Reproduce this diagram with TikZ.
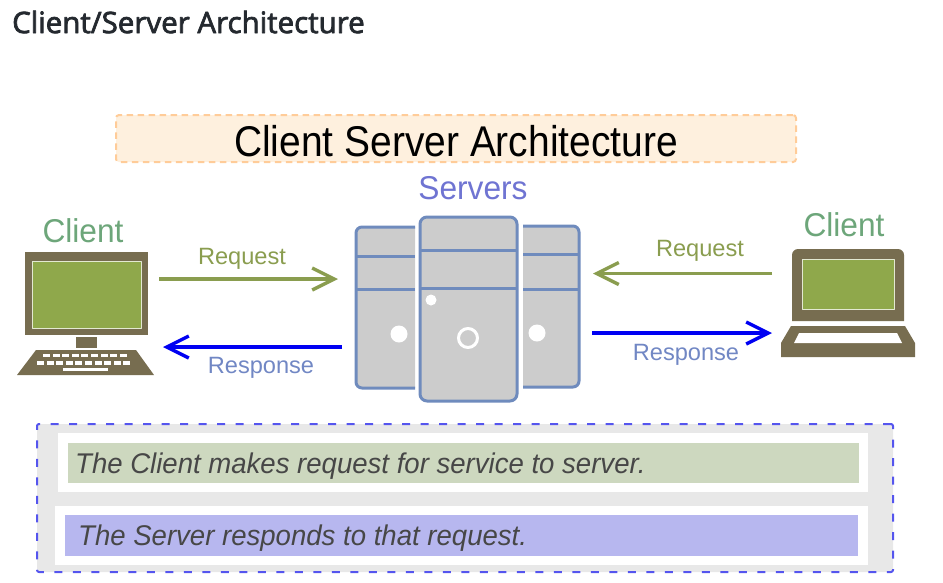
\documentclass[tikz,border=0pt]{standalone}
\usepackage{fontspec}
\setmainfont{Liberation Sans}
\newfontfamily\headfont{Open Sans}[FakeBold=2.5]
\newfontfamily\narrowfont{Liberation Sans}[FakeStretch=0.906]
\newfontfamily\namefont{Liberation Sans}[FakeStretch=0.96]
\newfontfamily\notefont{Liberation Sans}[FakeStretch=0.967]
\usetikzlibrary{arrows.meta, calc}
\definecolor{leaf}{HTML}{8FA84B}
\definecolor{reqgreen}{HTML}{8A9D4F}
\definecolor{resblue}{HTML}{7187C4}
\definecolor{clientgreen}{HTML}{6DA67A}
\definecolor{servname}{HTML}{6F74D2}
\definecolor{olive}{HTML}{776D50}
\definecolor{towerline}{HTML}{6F8BBD}
\definecolor{towerfill}{HTML}{CCCCCC}
\definecolor{bannerfill}{HTML}{FEF0DE}
\definecolor{bannerline}{HTML}{FFCC99}
\definecolor{notegreen}{HTML}{CDD8BF}
\definecolor{noteblue}{HTML}{B7B7EF}
\definecolor{noteline}{HTML}{5555EE}
\definecolor{headink}{HTML}{24292F}
\begin{document}
\begin{tikzpicture}[
    x=1pt, y=-1pt,
    line join=round,
    arrowtext/.style={inner sep=0pt, font=\fontsize{23.6}{26}\selectfont},
    partname/.style={inner sep=0pt, font=\fontsize{33}{36}\selectfont\namefont},
    tower/.style={draw=towerline, line width=3pt, fill=towerfill},
    request/.style={draw=reqgreen, line width=3.2pt, -{Straight Barb[length=22pt, width=22pt, line width=3.4pt]}},
    response/.style={draw=blue!95!black, line width=3.2pt, -{Straight Barb[length=22pt, width=22pt, line width=3.4pt]}},
    panel/.style={inner sep=0pt, outer sep=0pt},
    note/.style={inner sep=0pt, anchor=west, text=black!72, font=\fontsize{28.5}{32}\selectfont\notefont\itshape}
]
    \useasboundingbox (0,0) rectangle (943,582);

    % --- heading ---
    \node [inner sep=0pt, anchor=west, text=headink, font=\fontsize{29.5}{32}\selectfont\headfont] (heading) at (12,22) {Client/Server Architecture};

    % --- title banner ---
    \node [panel, draw=bannerline, line width=2pt, dash pattern=on 6.5pt off 4.5pt, fill=bannerfill, rounded corners=3pt, minimum width=680pt, minimum height=47pt] (banner) at (456,138.5) {};
    \node [inner sep=0pt, font=\fontsize{43}{46}\selectfont\narrowfont] (bannertext) at (456,141) {Client Server Architecture};

    % --- left client ---
    \node [partname, text=clientgreen] (clientl) at (83,231) {Client};
    \node [panel, fill=olive, minimum width=123pt, minimum height=83pt] (monitor) at (86.5,293.5) {};
    \node [panel, fill=leaf, draw=white!75!leaf, line width=1pt, minimum width=109pt, minimum height=67pt] (screen) at (86.5,294.5) {};
    \node [panel, fill=olive, minimum width=21pt, minimum height=11pt] (stand) at (86,342.5) {};
    \fill [olive] (36,350) -- (136,350) -- (154,375) -- (17,375) -- cycle;
    \foreach \k in {0,...,8} \fill [white] (43+\k*9.6,353.5) rectangle ++(7,3.5);
    \foreach \k in {0,...,9} \fill [white] (37+\k*9.6,361) rectangle ++(7,3.5);
    \fill [white] (63,367.5) rectangle (108,370.5);

    % --- servers ---
    \node [partname, text=servname] (servers) at (473,188) {Servers};
    \draw [tower, rounded corners=6pt] (415,227) -- (356,227) -- (356,388) -- (415,388);
    \draw [towerline, line width=3pt] (356,256) -- (415,256) (356,289) -- (415,289);
    \node [panel, circle, fill=white, minimum size=17pt] (ledl) at (399,334) {};
    \draw [tower, rounded corners=6pt] (523,226) -- (579,226) -- (579,387) -- (523,387);
    \draw [towerline, line width=3pt] (523,254) -- (579,254) (523,289) -- (579,289);
    \node [panel, circle, fill=white, minimum size=17pt] (ledr) at (537,333) {};
    \node [panel, tower, rounded corners=7pt, minimum width=97pt, minimum height=184pt] (midtower) at (468.5,309) {};
    \draw [towerline, line width=3pt] (420,250) -- (517,250) (420,288) -- (517,288);
    \node [panel, circle, fill=white, minimum size=11pt] (ledm) at (431,300) {};
    \node [panel, circle, draw=white, line width=3pt, minimum size=19pt] (power) at (468,338) {};

    % --- right client ---
    \node [partname, text=clientgreen] (clientr) at (844,225) {Client};
    \fill [olive] (792,321) [rounded corners=6pt] -- (792,249) -- (904,249) [sharp corners] -- (904,321) -- cycle;
    \node [panel, fill=leaf, draw=white!75!leaf, line width=1pt, minimum width=92pt, minimum height=50pt] (lapscreen) at (848,284) {};
    \fill [olive] (791,326) -- (905,326) -- (915,343) -- (915,357) -- (781,357) -- (781,343) -- cycle;
    \fill [white] (799,333) -- (897,333) -- (902,343) -- (794,343) -- cycle;

    % --- arrows ---
    \coordinate (reqla) at (159,279);
    \coordinate (reqlb) at (338,279);
    \coordinate (resla) at (342,347);
    \coordinate (reslb) at (163,347);
    \coordinate (reqra) at (772,273.5);
    \coordinate (reqrb) at (593,273.5);
    \coordinate (resra) at (592,333);
    \coordinate (resrb) at (772,333);
    \draw [request] (reqla) -- (reqlb);
    \draw [response] (resla) -- (reslb);
    \draw [request] (reqra) -- (reqrb);
    \draw [response] (resra) -- (resrb);
    \node [arrowtext, text=reqgreen] (reqltext) at (242,259) {Request};
    \node [arrowtext, text=resblue] (resltext) at (261,368) {Response};
    \node [arrowtext, text=reqgreen] (reqrtext) at (700,251) {Request};
    \node [arrowtext, text=resblue] (resrtext) at (686,355) {Response};

    % --- notes ---
    \node [panel, draw=noteline, line width=2pt, dash pattern=on 8pt off 10.5pt, fill=black!9, rounded corners=2pt, minimum width=856pt, minimum height=148pt] (notes) at (465,498) {};
    \node [panel, fill=white, minimum width=810pt, minimum height=59pt] (notea) at (463,462.5) {};
    \node [panel, fill=white, minimum width=813pt, minimum height=59pt] (noteb) at (461.5,535.5) {};
    \node [panel, fill=notegreen, minimum width=791pt, minimum height=40pt] (bara) at (463.5,463) {};
    \node [panel, fill=noteblue, minimum width=793pt, minimum height=41pt] (barb) at (461.5,535.5) {};
    \node [note] (notetexta) at (75,466) {The Client makes request for service to server.};
    \node [note] (notetextb) at (78,538) {The Server responds to that request.};
\end{tikzpicture}
\end{document}
